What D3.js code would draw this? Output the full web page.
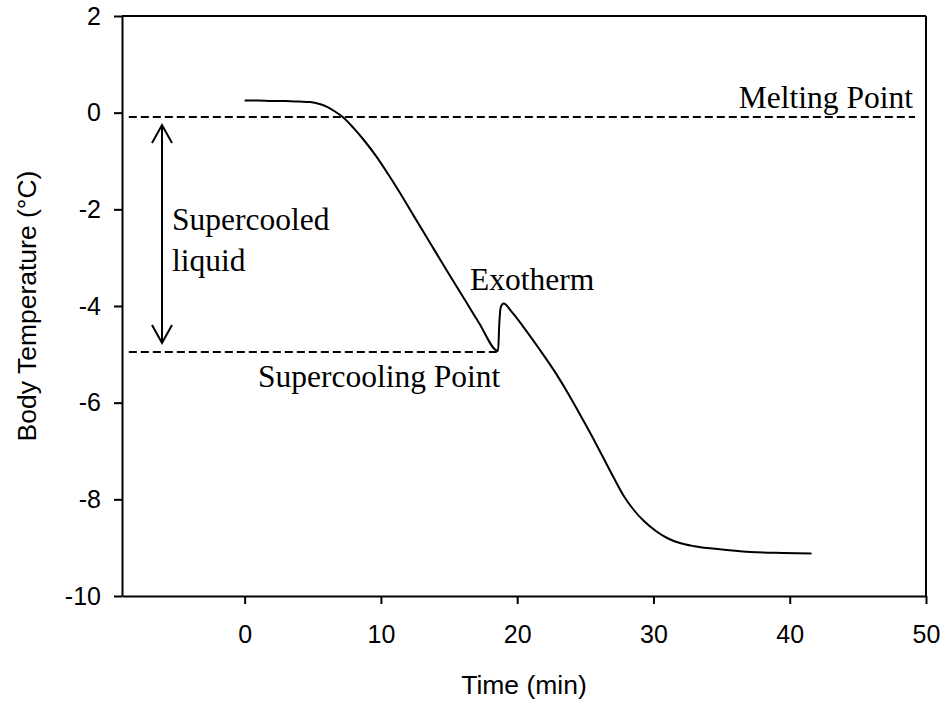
<!DOCTYPE html>
<html>
<head>
<meta charset="utf-8">
<script src="https://cdn.jsdelivr.net/npm/d3@7"></script>
<style>
  html, body { margin: 0; padding: 0; background: #fff; }
  svg { display: block; }
</style>
</head>
<body>
<svg id="chart" width="946" height="702"></svg>
<script>
// Cooling record of an insect body temperature (min, °C)
const timeMin = [0, 1, 2, 3, 4, 4.8, 5.5, 6.05, 6.6, 7.2, 8.0, 8.7, 9.7, 10.5, 11.2, 12.4, 13.6, 14.8, 16.0,
  17.2, 18.6, 18.68, 18.8, 19.0, 19.6, 20.45, 21.6, 22.9, 23.8, 24.6, 25.5, 26.3, 27.1, 27.8, 28.5,
  29.3, 30.2, 31.0, 32.0, 33.0, 34.7, 37.1, 39.5, 41.6];
const bodyTemp = [0.25, 0.25, 0.24, 0.24, 0.23, 0.22, 0.18, 0.12, 0.03, -0.09, -0.32, -0.55, -0.92, -1.26, -1.57,
  -2.13, -2.69, -3.25, -3.80, -4.35, -4.93, -4.40, -4.02, -3.95, -4.12, -4.43, -4.88, -5.42, -5.84, -6.24,
  -6.70, -7.13, -7.56, -7.92, -8.20, -8.45, -8.66, -8.80, -8.91, -8.97, -9.03, -9.09, -9.11, -9.12];

const xTicks = [0, 10, 20, 30, 40, 50];
const yTicks = [-10, -8, -6, -4, -2, 0, 2];

// Reference levels
const meltingPoint = -0.09;
const supercoolingPoint = -4.95;
const refLineStart = -8.5;
const meltingLineEnd = 49.2;
const supercoolingLineEnd = 18.7;

const svg = d3.select("#chart");
const plot = { left: 122, right: 926, top: 16, bottom: 596 };

const x = d3.scaleLinear().domain([-9, 50]).range([plot.left, plot.right]);
const y = d3.scaleLinear().domain([-10, 2]).range([plot.bottom, plot.top]);

const sans = "'Liberation Sans', Arial, sans-serif";
const serif = "'Liberation Serif', 'Times New Roman', serif";

// Axes (plain hyphen for negative numbers)
const fmt = d => String(d);
const xAxis = d3.axisBottom(x).tickValues(xTicks).tickFormat(fmt).tickSize(8).tickSizeOuter(0).tickPadding(21);
const yAxis = d3.axisLeft(y).tickValues(yTicks).tickFormat(fmt).tickSize(8).tickSizeOuter(0).tickPadding(13);

const gx = svg.append("g").attr("transform", `translate(0,${plot.bottom})`).call(xAxis);
const gy = svg.append("g").attr("transform", `translate(${plot.left},0)`).call(yAxis);

[gx, gy].forEach(g => {
  g.selectAll("path, line").attr("stroke", "#000").attr("stroke-width", 2);
  g.selectAll("text").attr("font-family", sans).attr("font-size", 25).attr("fill", "#000");
});

// Top and right frame lines
svg.append("line").attr("x1", plot.left).attr("x2", plot.right).attr("y1", plot.top).attr("y2", plot.top)
  .attr("stroke", "#000").attr("stroke-width", 2);
svg.append("line").attr("x1", plot.right).attr("x2", plot.right).attr("y1", plot.top).attr("y2", plot.bottom)
  .attr("stroke", "#000").attr("stroke-width", 2);

// Axis titles
svg.append("text")
  .attr("x", (plot.left + plot.right) / 2).attr("y", 694)
  .attr("text-anchor", "middle").attr("font-family", sans).attr("font-size", 26.5)
  .text("Time (min)");
svg.append("text")
  .attr("transform", `translate(36,${(plot.top + plot.bottom) / 2}) rotate(-90)`)
  .attr("text-anchor", "middle").attr("font-family", sans).attr("font-size", 26.5)
  .text("Body Temperature (°C)");

// Dashed reference lines
const dash = "8,4";
svg.append("line")
  .attr("x1", x(refLineStart)).attr("x2", x(meltingLineEnd))
  .attr("y1", y(meltingPoint)).attr("y2", y(meltingPoint))
  .attr("stroke", "#000").attr("stroke-width", 2).attr("stroke-dasharray", dash);
svg.append("line")
  .attr("x1", x(refLineStart)).attr("x2", x(supercoolingLineEnd))
  .attr("y1", y(supercoolingPoint)).attr("y2", y(supercoolingPoint))
  .attr("stroke", "#000").attr("stroke-width", 2).attr("stroke-dasharray", dash);

// Temperature trace
const data = timeMin.map((t, i) => ({ t, v: bodyTemp[i] }));
const line = d3.line().x(d => x(d.t)).y(d => y(d.v)).curve(d3.curveMonotoneX);
svg.append("path").datum(data)
  .attr("d", line)
  .attr("fill", "none").attr("stroke", "#000").attr("stroke-width", 2)
  .attr("stroke-linejoin", "round");

// Double-headed arrow spanning the supercooled range
const ax = 162;
const aTop = y(meltingPoint) + 8;
const aBot = y(supercoolingPoint) - 9;
const arrow = svg.append("g").attr("stroke", "#000").attr("stroke-width", 2).attr("fill", "none");
arrow.append("line").attr("x1", ax).attr("x2", ax).attr("y1", aTop).attr("y2", aBot);
arrow.append("path").attr("d", `M${ax - 10},${aTop + 18}L${ax},${aTop}L${ax + 10},${aTop + 18}`);
arrow.append("path").attr("d", `M${ax - 10},${aBot - 18}L${ax},${aBot}L${ax + 10},${aBot - 18}`);

// Annotations
const ann = (txt, px, py, anchor) => svg.append("text")
  .attr("x", px).attr("y", py).attr("text-anchor", anchor || "start")
  .attr("font-family", serif).attr("font-size", 31.5).attr("fill", "#000").text(txt);

ann("Melting Point", 913, 108, "end");
ann("Supercooled", 172, 230);
ann("liquid", 172, 271);
ann("Exotherm", 470, 290);
ann("Supercooling Point", 258, 387);
</script>
</body>
</html>
